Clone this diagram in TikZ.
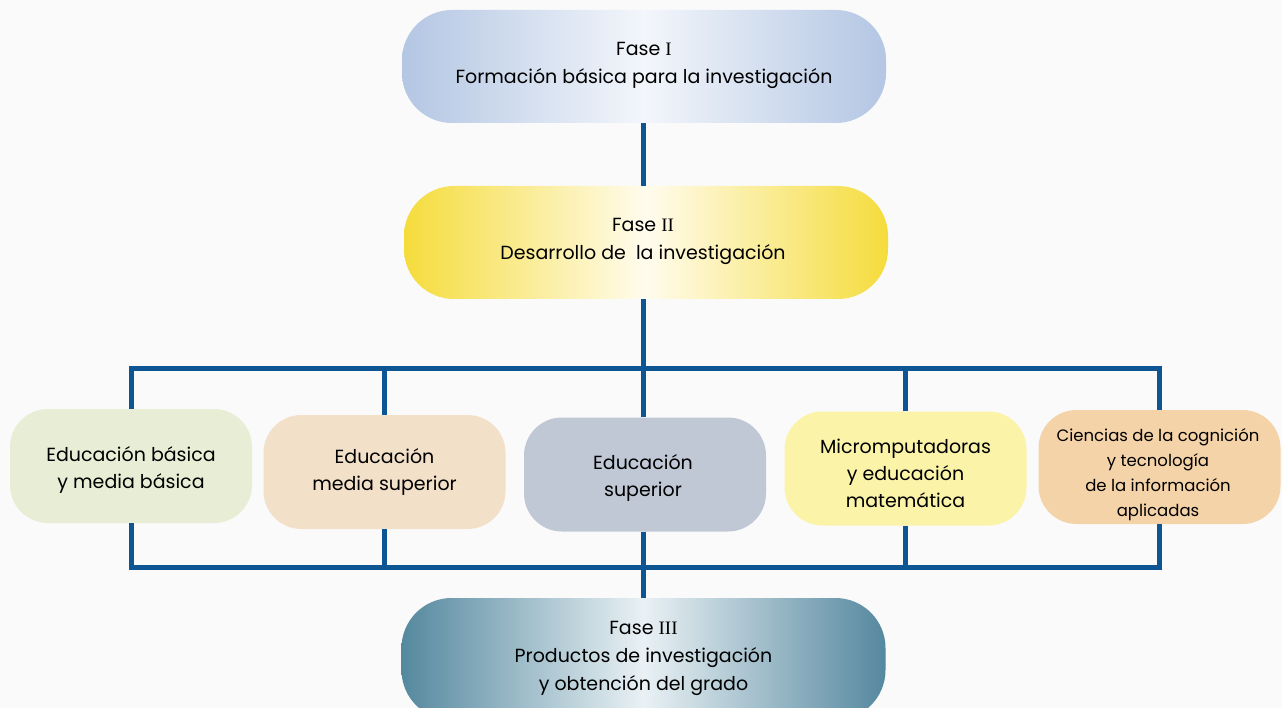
\documentclass[tikz,border=0pt]{standalone}
\usepackage{fontspec}
\setmainfont{Poppins}
\newfontfamily\numfont{Liberation Serif}
\definecolor{bg}{HTML}{FAFAFA}
\definecolor{conncol}{HTML}{0E5594}
\definecolor{blueedge}{HTML}{B3C6E3}
\definecolor{bluemid}{HTML}{F3F6FB}
\definecolor{yellowedge}{HTML}{F5DC3C}
\definecolor{yellowmid}{HTML}{FFFCEE}
\definecolor{tealedge}{HTML}{55889F}
\definecolor{tealmid}{HTML}{E9F1F4}
\definecolor{cgreen}{HTML}{E8EDD5}
\definecolor{cpeach}{HTML}{F2E0C9}
\definecolor{cgray}{HTML}{C0C8D6}
\definecolor{cyellow}{HTML}{FAF3A8}
\definecolor{corange}{HTML}{F5D3A8}
\tikzset{
  conn/.style={draw=conncol, line width=5pt},
  phase/.style={rounded corners=50pt, minimum width=484pt, inner sep=0pt},
  area/.style={rounded corners=38pt, minimum width=242pt, minimum height=114pt, inner sep=0pt},
  label text/.style={align=center, font=\fontsize{19}{27}\selectfont, inner sep=0pt},
}
\begin{document}
\begin{tikzpicture}[x=1pt,y=-1pt]
\fill[bg] (0,0) rectangle (1282,708);
\clip (0,0) rectangle (1282,708);
% phases
\node[phase, minimum height=113pt, left color=blueedge, right color=blueedge, middle color=bluemid] (f1) at (644,66.5) {};
\node[label text, font=\fontsize{19}{28}\selectfont] (f1t) at (644,65)
  {Fase {\numfont I}\\Formación básica para la investigación};
\node[phase, minimum height=113pt, left color=yellowedge, right color=yellowedge, middle color=yellowmid] (f2) at (646,242.5) {};
\node[label text, font=\fontsize{19}{28}\selectfont] (f2t) at (643,241)
  {Fase {\numfont II}\\Desarrollo de\ \ la investigación};
\node[phase, minimum height=122pt, left color=tealedge, right color=tealedge, middle color=tealmid] (f3) at (643.5,659) {};
\node[label text, font=\fontsize{19}{28}\selectfont] (f3t) at (643.5,658)
  {Fase {\numfont III}\\Productos de investigación\\y obtención del grado};
% areas
\node[area, fill=cgreen] (b1) at (131,466) {};
\node[label text] (b1t) at (131,470) {Educación básica\\y media básica};
\node[area, fill=cpeach] (b2) at (384.5,472) {};
\node[label text] (b2t) at (384.5,472) {Educación\\media superior};
\node[area, fill=cgray] (b3) at (645,474.5) {};
\node[label text] (b3t) at (643,477.5) {Educación\\superior};
\node[area, fill=cyellow] (b4) at (905.5,468.5) {};
\node[label text] (b4t) at (905.5,473.5) {Micromputadoras\\y educación\\matemática};
\node[area, fill=corange] (b5) at (1159.5,467) {};
\node[label text, font=\fontsize{16.5}{25}\selectfont] (b5t) at (1158,475) {Ciencias de la cognición\\y tecnología\\de la información\\aplicadas};
% bus coordinates
\coordinate (busT) at (643,369);
\coordinate (busB) at (643,567);
% connectors
\draw[conn] (f1.south -| busT) -- (f2.north -| busT);
\draw[conn] (f2.south -| busT) -- (busT);
\draw[conn] (b1.north) |- (b5.north |- busT) -- (b5.north);
\draw[conn] (b2.north) -- (b2.north |- busT);
\draw[conn] (b3.north -| busT) -- (busT);
\draw[conn] (b4.north) -- (b4.north |- busT);
\draw[conn] (b1.south) |- (b5.south |- busB) -- (b5.south);
\draw[conn] (b2.south) -- (b2.south |- busB);
\draw[conn] (b3.south -| busB) -- (f3.north -| busB);
\draw[conn] (b4.south) -- (b4.south |- busB);
\end{tikzpicture}
\end{document}
